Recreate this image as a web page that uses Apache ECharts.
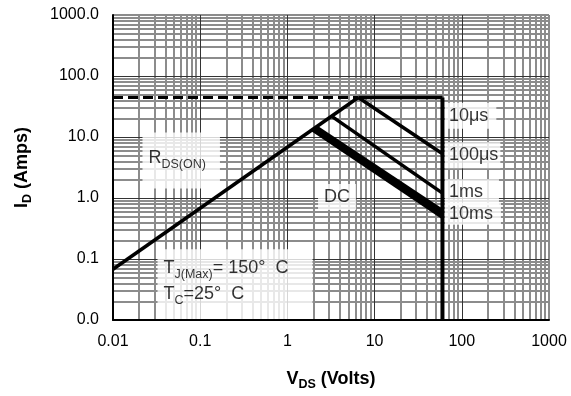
<!DOCTYPE html>
<html>
<head>
<meta charset="utf-8">
<script src="https://cdn.jsdelivr.net/npm/echarts@6/dist/echarts.min.js"></script>
<style>html,body{margin:0;padding:0;background:#fff}#c{width:571px;height:396px}</style>
</head>
<body>
<div id="c"></div>
<script>
// ---- data (V in volts, I in amps) ----
const xTickLabels = ['0.01', '0.1', '1', '10', '100', '1000'];
const yTickLabels = ['0.0', '0.1', '1.0', '10.0', '100.0', '1000.0'];
const rdsOnLimit = [[0.01, 0.068], [6.5, 44.5]];
const currentLimitDashed = [[0.01, 44.5], [6.5, 44.5]];
const pulse10us = [[6.5, 44.5], [60, 44.5]];
const pulse100us = [[6.5, 44.5], [60, 5.3]];
const pulse1ms = [[3.2, 22], [60, 1.2]];
const pulse10ms = [[2.07, 14.5], [60, 0.6]];
const dcLine = [[1.97, 13.3], [60, 0.5]];
const bvdssLimit = [[60, 44.5], [60, 0.01]];

// grid line values
const decades = [0.01, 0.1, 1, 10, 100];
const minorMult = [2, 3, 4, 5, 6, 7, 8, 9];

const FONT = 'Liberation Sans, Arial, sans-serif';
const chart = echarts.init(document.getElementById('c'), null, {renderer: 'canvas'});

const minorVals = [];
decades.forEach(d => minorMult.forEach(m => minorVals.push(+(d * m).toPrecision(6))));
const majorVals = [0.1, 1, 10, 100];

const gridLinesMinor = [];
minorVals.forEach(v => { gridLinesMinor.push({xAxis: v}); gridLinesMinor.push({yAxis: v}); });
gridLinesMinor.push({xAxis: 1000}); gridLinesMinor.push({yAxis: 1000});
const gridLinesMajor = [];
majorVals.forEach(v => { gridLinesMajor.push({xAxis: v}); gridLinesMajor.push({yAxis: v}); });

function idx(v) { return Math.round(Math.log10(v)) + 2; }

const sub = {fontSize: 12.5, lineHeight: 14, verticalAlign: 'bottom', fontFamily: FONT, color: '#000'};
const main = {fontSize: 18, lineHeight: 26, fontFamily: FONT, color: '#000'};

function curve(data, extra) {
  return Object.assign({
    type: 'line', data: data, showSymbol: false, symbol: 'none', silent: true, z: 3,
    lineStyle: {color: '#000', width: 3.5, cap: 'butt', join: 'miter'}
  }, extra || {});
}

function note(at, text, labelOpt) {
  return {
    value: at,
    label: Object.assign({
      show: true, formatter: text, color: '#000', fontFamily: FONT, fontSize: 18,
      backgroundColor: '#fff', rich: {m: main, s: sub}
    }, labelOpt)
  };
}

const titleRich = {
  b: {fontSize: 18, fontWeight: 'bold', fontFamily: FONT, color: '#000', lineHeight: 24},
  bs: {fontSize: 12.5, fontWeight: 'bold', fontFamily: FONT, color: '#000', lineHeight: 14, verticalAlign: 'bottom'}
};

const option = {
  animation: false,
  backgroundColor: '#fff',
  grid: {left: 113, right: 22, top: 15, bottom: 73, containLabel: false},
  xAxis: {
    type: 'log', logBase: 10, min: 0.01, max: 1000, z: 10,
    name: '{b|V}{bs|DS}{b| (Volts)}', nameLocation: 'middle', nameGap: 47,
    nameTextStyle: {rich: titleRich},
    axisLine: {show: true, lineStyle: {color: '#000', width: 2}},
    axisTick: {show: false},
    splitLine: {show: false},
    axisLabel: {color: '#000', fontSize: 16, fontFamily: FONT, margin: 14,
      formatter: v => xTickLabels[idx(v)]}
  },
  yAxis: {
    type: 'log', logBase: 10, min: 0.01, max: 1000, z: 10,
    name: '{b|I}{bs|D}{b| (Amps)}', nameLocation: 'middle', nameGap: 79,
    nameTextStyle: {rich: titleRich},
    axisLine: {show: true, lineStyle: {color: '#000', width: 2}},
    axisTick: {show: false},
    splitLine: {show: false},
    axisLabel: {color: '#000', fontSize: 16, fontFamily: FONT, margin: 14,
      formatter: v => yTickLabels[idx(v)]}
  },
  series: [
    {
      type: 'line', data: [[1, 1]], showSymbol: false, symbol: 'none', silent: true, z: 1,
      lineStyle: {opacity: 0},
      markLine: {silent: true, z: 1, symbol: 'none', label: {show: false}, animation: false,
        lineStyle: {color: '#8c8c8c', width: 2, type: 'solid'}, data: gridLinesMinor}
    },
    {
      type: 'line', data: [[1, 1]], showSymbol: false, symbol: 'none', silent: true, z: 1,
      lineStyle: {opacity: 0},
      markLine: {silent: true, z: 1, symbol: 'none', label: {show: false}, animation: false,
        lineStyle: {color: '#333', width: 1, type: 'solid'}, data: gridLinesMajor}
    },
    curve(currentLimitDashed, {lineStyle: {color: '#000', width: 3, type: [10, 5]}}),
    curve(rdsOnLimit),
    curve(pulse10us),
    curve(pulse100us),
    curve(pulse1ms),
    curve(pulse10ms, {lineStyle: {color: '#000', width: 5, cap: 'butt'}}),
    curve(dcLine, {lineStyle: {color: '#000', width: 5, cap: 'butt'}}),
    curve(bvdssLimit, {lineStyle: {color: '#000', width: 4}}),
    {
      type: 'scatter', symbolSize: 1, silent: true, z: 6,
      itemStyle: {color: 'rgba(255,255,255,0)'},
      data: [
        note([60, 22.3], '10μs', {position: 'right', distance: 2, padding: [4, 8, 4, 4]}),
        note([60, 5.0], '100μs', {position: 'right', distance: 2, padding: [4, 2, 4, 4]}),
        note([60, 1.24], '1ms', {position: 'right', distance: 2, padding: [4, 16, 4, 4]}),
        note([60, 0.55], '10ms', {position: 'right', distance: 2, padding: [2, 8, 2, 4]}),
        note([0.0215, 4.1], '{m|R}{s|DS(ON)}', {position: 'right', distance: 0, padding: [12, 14, 18, 6]}),
        note([3.71, 1.04], 'DC', {position: 'inside', padding: [4, 6, 4, 6]}),
        note([0.032, 0.0344], '{m|T}{s|J(Max)}{m|= 150°  C}\n{m|T}{s|C}{m|=25°  C}',
          {position: 'right', distance: 0, padding: [6, 24, 18, 6]})
      ]
    }
  ]
};
chart.setOption(option);
</script>
</body>
</html>
